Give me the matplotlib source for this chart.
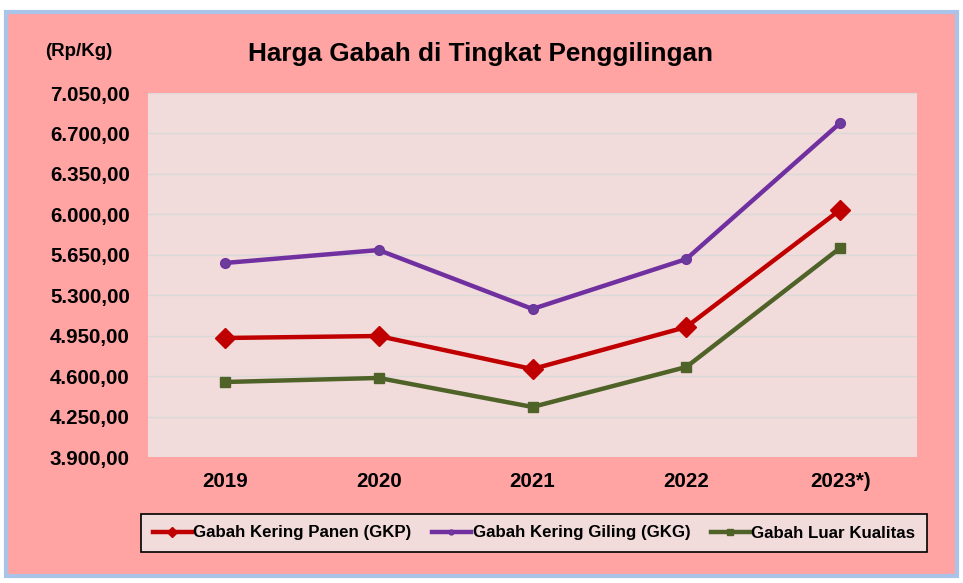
import matplotlib.pyplot as plt
from matplotlib.patches import FancyBboxPatch
from matplotlib.ticker import FuncFormatter

tahun = ["2019", "2020", "2021", "2022", "2023*)"]
gkp = [4930, 4947, 4661, 5025, 6038]
gkg = [5579, 5691, 5181, 5613, 6790]
glk = [4549, 4584, 4333, 4679, 5709]

plt.rcParams['font.family'] = ['Liberation Sans', 'DejaVu Sans']
plt.rcParams['font.weight'] = 'bold'

fig = plt.figure(figsize=(9.63, 5.83), dpi=100, facecolor="white")

# latar belakang pink dengan bingkai kebiruan
bg = FancyBboxPatch((0.006, 0.012), 0.988, 0.968, boxstyle="square,pad=0",
                    transform=fig.transFigure, facecolor="#FFA3A3",
                    edgecolor="#A9C4E8", linewidth=3, zorder=-5)
fig.patches.append(bg)

ax = fig.add_axes([148/963, 1-457/583, (917-148)/963, (457-93)/583])
ax.set_facecolor("#F2DCDB")

x = range(len(tahun))
ax.plot(x, gkp, color="#C00000", lw=3.2, marker="D", ms=10, label="Gabah Kering Panen (GKP)", zorder=3)
ax.plot(x, gkg, color="#7030A0", lw=3.2, marker="o", ms=7, mfc="#6A3D9A", label="Gabah Kering Giling (GKG)", zorder=3)
ax.plot(x, glk, color="#4F6228", lw=3.2, marker="s", ms=7.5, label="Gabah Luar Kualitas", zorder=3)

ax.set_xlim(-0.5, 4.5)
ax.set_ylim(3900, 7050)
ax.set_yticks(range(3900, 7051, 350))
ax.yaxis.set_major_formatter(FuncFormatter(
    lambda v, p: "{:,.2f}".format(v).replace(",", "X").replace(".", ",").replace("X", ".")))
ax.set_xticks(list(x))
ax.set_xticklabels(tahun)
ax.tick_params(length=0, labelsize=14.8, pad=11)
ax.tick_params(axis="y", pad=13)
ax.grid(axis="y", color="#D9D9D9", lw=1)
ax.set_axisbelow(True)
for s in ax.spines.values():
    s.set_visible(False)

fig.text(480/963, 1-54/583, "Harga Gabah di Tingkat Penggilingan", ha="center", va="center",
         fontsize=18.8, fontweight="bold")
fig.text(79/963, 1-52/583, "(Rp/Kg)", ha="center", va="center", fontsize=13.5, fontweight="bold")

leg = fig.legend(loc="center", bbox_to_anchor=(534/963, 1-533/583), ncol=3, frameon=True,
                 fancybox=False, edgecolor="black", facecolor="#F2DCDB", framealpha=1,
                 fontsize=12.2, handlelength=2.3, handletextpad=0.1, columnspacing=1.2,
                 borderpad=0.7, markerscale=0.5)
leg.get_frame().set_linewidth(1.2)

fig.savefig("out.png", dpi=100, facecolor="white")
